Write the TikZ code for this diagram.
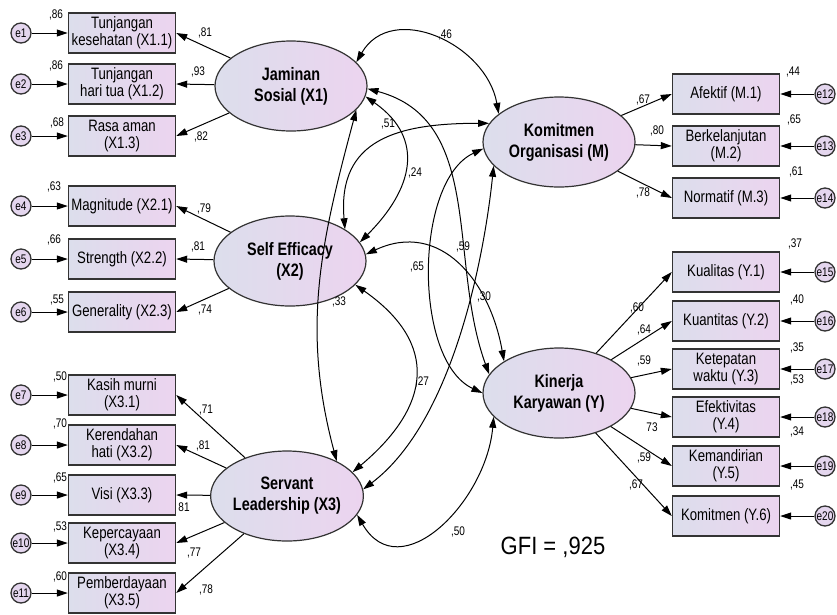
\documentclass[tikz,border=0pt]{standalone}
\usepackage{fontspec}
\newfontfamily\amos[FakeStretch=0.8]{Liberation Sans}
\newfontfamily\gfifont[FakeStretch=0.88]{Liberation Sans}
\usetikzlibrary{arrows.meta,shapes.geometric}
\definecolor{shadeL}{HTML}{DCDEEC}
\definecolor{shadeR}{HTML}{ECD4EF}
\definecolor{errfill}{HTML}{E4D6EE}
\definecolor{rim}{HTML}{333333}

\begin{document}
\begin{tikzpicture}[x=1pt,y=-1pt,
  ind/.style={rectangle,draw=rim,line width=1.4pt,minimum width=107pt,minimum height=40pt,inner sep=0pt,left color=shadeL,right color=shadeR,align=center,font=\amos\fontsize{16.5}{17}\selectfont},
  lat/.style={ellipse,draw=rim,line width=1.2pt,minimum width=152pt,minimum height=90pt,inner sep=0pt,left color=shadeL,right color=shadeR,align=center,font=\amos\bfseries\fontsize{18}{21}\selectfont},
  err/.style={circle,draw=rim,line width=1.3pt,minimum size=20pt,inner sep=0pt,fill=errfill,font=\amos\fontsize{12.5}{12}\selectfont},
  est/.style={font=\amos\fontsize{12.5}{12}\selectfont,inner sep=0pt},
  loadarrow/.style={-{Triangle[length=11pt,width=7pt]},line width=1pt},
  cov/.style={{Triangle[length=11pt,width=7pt]}-{Triangle[length=11pt,width=7pt]},line width=1pt}]
  \useasboundingbox (0,0) rectangle (837,614);

  \node[ind] (x11) at (122,33) {Tunjangan\\kesehatan (X1.1)};
  \node[ind] (x12) at (122,84) {Tunjangan\\hari tua (X1.2)};
  \node[ind] (x13) at (122,136) {Rasa aman\\(X1.3)};
  \node[ind] (x21) at (122,206) {Magnitude (X2.1)};
  \node[ind] (x22) at (122,259) {Strength (X2.2)};
  \node[ind] (x23) at (122,312) {Generality (X2.3)};
  \node[ind] (x31) at (122,395) {Kasih murni\\(X3.1)};
  \node[ind] (x32) at (122,445) {Kerendahan\\hati (X3.2)};
  \node[ind] (x33) at (122,495) {Visi (X3.3)};
  \node[ind] (x34) at (122,543) {Kepercayaan\\(X3.4)};
  \node[ind] (x35) at (122,593) {Pemberdayaan\\(X3.5)};

  \node[ind] (m1) at (726,94) {Afektif (M.1)};
  \node[ind] (m2) at (726,146) {Berkelanjutan\\(M.2)};
  \node[ind] (m3) at (726,198) {Normatif (M.3)};
  \node[ind] (y1) at (726,272) {Kualitas (Y.1)};
  \node[ind] (y2) at (726,321) {Kuantitas (Y.2)};
  \node[ind] (y3) at (726,369) {Ketepatan\\waktu (Y.3)};
  \node[ind] (y4) at (726,417) {Efektivitas\\(Y.4)};
  \node[ind] (y5) at (726,466) {Kemandirian\\(Y.5)};
  \node[ind] (y6) at (726,516) {Komitmen (Y.6)};

  \node[lat] (X1) at (291,86) {Jaminan\\Sosial (X1)};
  \node[lat] (X2) at (290,261) {Self Efficacy\\(X2)};
  \node[lat] (X3) at (287,496) {Servant\\Leadership (X3)};
  \node[lat] (M) at (559,142) {Komitmen\\Organisasi (M)};
  \node[lat] (Y) at (559,393) {Kinerja\\Karyawan (Y)};

  \node[err] (e1) at (21,33) {e1};
  \node[err] (e2) at (21,84) {e2};
  \node[err] (e3) at (21,136) {e3};
  \node[err] (e4) at (21,206) {e4};
  \node[err] (e5) at (21,259) {e5};
  \node[err] (e6) at (21,312) {e6};
  \node[err] (e7) at (21,395) {e7};
  \node[err] (e8) at (21,445) {e8};
  \node[err] (e9) at (21,495) {e9};
  \node[err] (e10) at (21,543) {e10};
  \node[err] (e11) at (21,593) {e11};
  \node[err] (e12) at (825,94) {e12};
  \node[err] (e13) at (825,146) {e13};
  \node[err] (e14) at (825,198) {e14};
  \node[err] (e15) at (825,272) {e15};
  \node[err] (e16) at (825,321) {e16};
  \node[err] (e17) at (825,369) {e17};
  \node[err] (e18) at (825,417) {e18};
  \node[err] (e19) at (825,466) {e19};
  \node[err] (e20) at (825,516) {e20};

  \draw[loadarrow] (e1) -- (x11);
  \draw[loadarrow] (e2) -- (x12);
  \draw[loadarrow] (e3) -- (x13);
  \draw[loadarrow] (e4) -- (x21);
  \draw[loadarrow] (e5) -- (x22);
  \draw[loadarrow] (e6) -- (x23);
  \draw[loadarrow] (e7) -- (x31);
  \draw[loadarrow] (e8) -- (x32);
  \draw[loadarrow] (e9) -- (x33);
  \draw[loadarrow] (e10) -- (x34);
  \draw[loadarrow] (e11) -- (x35);
  \draw[loadarrow] (e12) -- (m1);
  \draw[loadarrow] (e13) -- (m2);
  \draw[loadarrow] (e14) -- (m3);
  \draw[loadarrow] (e15) -- (y1);
  \draw[loadarrow] (e16) -- (y2);
  \draw[loadarrow] (e17) -- (y3);
  \draw[loadarrow] (e18) -- (y4);
  \draw[loadarrow] (e19) -- (y5);
  \draw[loadarrow] (e20) -- (y6);

  \draw[loadarrow] (X1) -- (x11.east);
  \draw[loadarrow] (X1) -- (x12.east);
  \draw[loadarrow] (X1) -- (x13.east);
  \draw[loadarrow] (X2) -- (x21.east);
  \draw[loadarrow] (X2) -- (x22.east);
  \draw[loadarrow] (X2) -- (x23.east);
  \draw[loadarrow] (X3) -- (x31.east);
  \draw[loadarrow] (X3) -- (x32.east);
  \draw[loadarrow] (X3) -- (x33.east);
  \draw[loadarrow] (X3) -- (x34.east);
  \draw[loadarrow] (X3) -- (x35.east);
  \draw[loadarrow] (M) -- (m1.west);
  \draw[loadarrow] (M) -- (m2.west);
  \draw[loadarrow] (M) -- (m3.west);
  \draw[loadarrow] (Y) -- (y1.west);
  \draw[loadarrow] (Y) -- (y2.west);
  \draw[loadarrow] (Y) -- (y3.west);
  \draw[loadarrow] (Y) -- (y4.west);
  \draw[loadarrow] (Y) -- (y5.west);
  \draw[loadarrow] (Y) -- (y6.west);

  \draw[cov] (X1.20) to[out=60,in=100,looseness=1.2] (M.155);
  \draw[cov] (X1.-8) to[out=-35,in=45,looseness=1.3] (X2.15);
  \draw[cov] (X1.-20) to[out=-105,in=105] (X3.35);
  \draw[cov] (X1.-2) to[out=-15,in=110] (Y.165);
  \draw[cov] (X2.30) to[out=95,in=180,looseness=1.3] (M.165);
  \draw[cov] (X2.5) to[out=25,in=100,looseness=1.2] (Y.150);
  \draw[cov] (X2.-20) to[out=-35,in=40,looseness=1.4] (X3.20);
  \draw[cov] (X3.5) .. controls (455,420) and (485,250) .. (M.200);
  \draw[cov] (M.185) to[out=205,in=155,looseness=0.8] (Y.180);
  \draw[cov] (X3.-15) to[out=-60,in=-95,looseness=1.3] (Y.200);

  \node[est] (v1) at (56,15) {,86};
  \node[est] (v2) at (56,66) {,86};
  \node[est] (v3) at (57,123) {,68};
  \node[est] (v4) at (54,187) {,63};
  \node[est] (v5) at (54,240) {,66};
  \node[est] (v6) at (57,300) {,55};
  \node[est] (v7) at (60,377) {,50};
  \node[est] (v8) at (60,424) {,70};
  \node[est] (v9) at (60,478) {,65};
  \node[est] (v10) at (60,527) {,53};
  \node[est] (v11) at (60,577) {,60};
  \node[est] (v12) at (793,72) {,44};
  \node[est] (v13) at (794,120) {,65};
  \node[est] (v14) at (796,172) {,61};
  \node[est] (v15) at (795,244) {,37};
  \node[est] (v16) at (797,300) {,40};
  \node[est] (v17) at (797,348) {,35};
  \node[est] (v18) at (797,380) {,53};
  \node[est] (v19) at (797,432) {,34};
  \node[est] (v20) at (797,485) {,45};

  \node[est] (l11) at (205,33) {,81};
  \node[est] (l12) at (198,72) {,93};
  \node[est] (l13) at (201,137) {,82};
  \node[est] (l21) at (204,209) {,79};
  \node[est] (l22) at (198,247) {,81};
  \node[est] (l23) at (205,310) {,74};
  \node[est] (l31) at (206,410) {,71};
  \node[est] (l32) at (203,446) {,81};
  \node[est] (l33) at (184,507) {81};
  \node[est] (l34) at (194,553) {,77};
  \node[est] (l35) at (206,590) {,78};
  \node[est] (lm1) at (643,100) {,67};
  \node[est] (lm2) at (657,131) {,80};
  \node[est] (lm3) at (643,193) {,78};
  \node[est] (ly1) at (637,308) {,60};
  \node[est] (ly2) at (644,330) {,64};
  \node[est] (ly3) at (644,361) {,59};
  \node[est] (ly4) at (652,427) {73};
  \node[est] (ly5) at (644,458) {,59};
  \node[est] (ly6) at (636,485) {,67};

  \node[est] (c1) at (445,35) {,46};
  \node[est] (c2) at (388,124) {,51};
  \node[est] (c3) at (415,173) {,24};
  \node[est] (c4) at (463,247) {,59};
  \node[est] (c5) at (417,267) {,65};
  \node[est] (c6) at (484,297) {,30};
  \node[est] (c7) at (339,302) {,33};
  \node[est] (c8) at (422,382) {,27};
  \node[est] (c9) at (458,532) {,50};

  \node[font=\gfifont\fontsize{25}{25}\selectfont,inner sep=0pt] (gfi) at (553,547) {GFI = ,925};
\end{tikzpicture}
\end{document}
